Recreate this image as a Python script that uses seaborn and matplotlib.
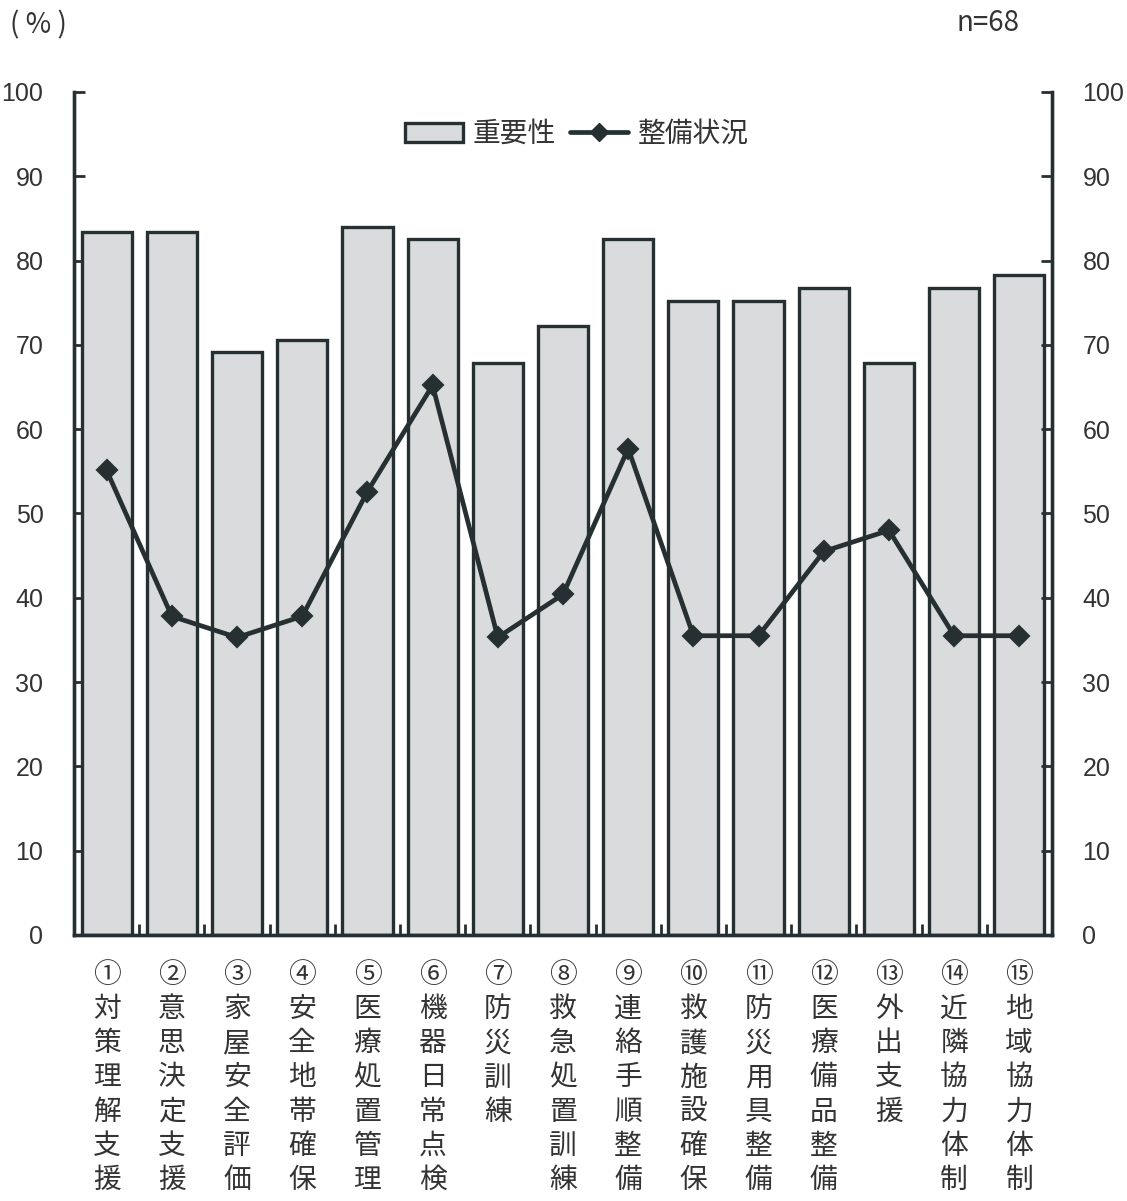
import matplotlib
matplotlib.use("Agg")
import matplotlib.pyplot as plt
from matplotlib.patches import Patch
from matplotlib.lines import Line2D
from matplotlib.ticker import FixedLocator
import seaborn as sns
import pandas as pd

# 項目（丸数字＋名称）
item_numbers = ["①", "②", "③", "④", "⑤", "⑥", "⑦", "⑧",
                "⑨", "⑩", "⑪", "⑫", "⑬", "⑭", "⑮"]
item_names = ["対策理解支援", "意思決定支援", "家屋安全評価", "安全地帯確保",
              "医療処置管理", "機器日常点検", "防災訓練", "救急処置訓練",
              "連絡手順整備", "救護施設確保", "防災用具整備", "医療備品整備",
              "外出支援", "近隣協力体制", "地域協力体制"]

# 重要性（%）
importance = [83.4, 83.4, 69.1, 70.6, 84.0, 82.6, 67.8, 72.3,
              82.6, 75.2, 75.2, 76.8, 67.9, 76.8, 78.3]
# 整備状況（%）
readiness = [55.1, 37.8, 35.3, 37.8, 52.6, 65.2, 35.3, 40.4,
             57.7, 35.5, 35.5, 45.5, 48.0, 35.5, 35.5]

y_ticks = [0, 10, 20, 30, 40, 50, 60, 70, 80, 90, 100]

sns.set_theme(style="white")
plt.rcParams["font.family"] = ["Noto Sans CJK JP", "DejaVu Sans"]

bar_face = "#d9dbdc"
ink = "#263033"
text_color = "#333333"

df = pd.DataFrame({
    "item": item_numbers,
    "importance": importance,
    "readiness": readiness,
})

fig = plt.figure(figsize=(11.27, 12.01), dpi=100)
ax = fig.add_axes([0.0657, 0.2215, 0.8677, 0.7019])

sns.barplot(data=df, x="item", y="importance", order=item_numbers,
            color=bar_face, edgecolor=ink, linewidth=2.4, width=0.77,
            saturation=1, ax=ax)
sns.pointplot(data=df, x="item", y="readiness", order=item_numbers,
              color=ink, markers="D", linewidth=3.4, markersize=9,
              ax=ax)

ax.set_xlim(-0.5, len(item_numbers) - 0.5)
ax.set_ylim(0, 100)
ax.set_xlabel("")
ax.set_ylabel("")

num_font = ["Liberation Sans Narrow", "Liberation Sans", "DejaVu Sans"]

# 左軸
ax.set_yticks(y_ticks)
ax.set_yticklabels([str(v) for v in y_ticks], fontsize=18,
                   color=text_color, family=num_font)
ax.tick_params(axis="y", direction="in", length=8, width=2,
               color=ink, pad=22, left=True)

# 右軸（同じ目盛）
ax2 = ax.twinx()
ax2.set_ylim(0, 100)
ax2.set_yticks(y_ticks)
ax2.set_yticklabels([str(v) for v in y_ticks], fontsize=18,
                    color=text_color, family=num_font)
ax2.tick_params(axis="y", direction="in", length=8, width=2,
                color=ink, pad=22, right=True)
ax2.grid(False)

for a in (ax, ax2):
    a.spines["top"].set_visible(False)
    for side in ("left", "right", "bottom"):
        a.spines[side].set_color(ink)
        a.spines[side].set_linewidth(2.4)

# 横軸：項目名を縦書きで表示、区切りに内向きの小目盛
ax.set_xticks(range(len(item_numbers)))
ax.set_xticklabels(["\n".join([n] + list(name))
                    for n, name in zip(item_numbers, item_names)],
                   fontsize=20, color=text_color, linespacing=1.18,
                   va="top")
ax.tick_params(axis="x", which="major", length=0, pad=18)
ax.xaxis.set_minor_locator(FixedLocator(
    [i + 0.5 for i in range(len(item_numbers) - 1)]))
ax.tick_params(axis="x", which="minor", direction="in", length=8,
               width=2, color=ink, bottom=True)

ax.grid(False)

# 凡例
handles = [
    Patch(facecolor=bar_face, edgecolor=ink, linewidth=2.4, label="重要性"),
    Line2D([0], [0], color=ink, linewidth=3.4, marker="D", markersize=9,
           label="整備状況"),
]
ax2.legend(handles=handles, loc="center", bbox_to_anchor=(0.514, 0.95),
           ncol=2, frameon=False, fontsize=20, handlelength=2.1,
           handleheight=0.7, handletextpad=0.35, columnspacing=0.5,
           labelcolor=text_color)

fig.text(0.009, 0.979, "( % )", fontsize=20, color=text_color,
         ha="left", va="center")
fig.text(0.905, 0.981, "n=68", fontsize=20, color=text_color,
         ha="right", va="center")

fig.savefig("out.png", dpi=100, facecolor="white")
